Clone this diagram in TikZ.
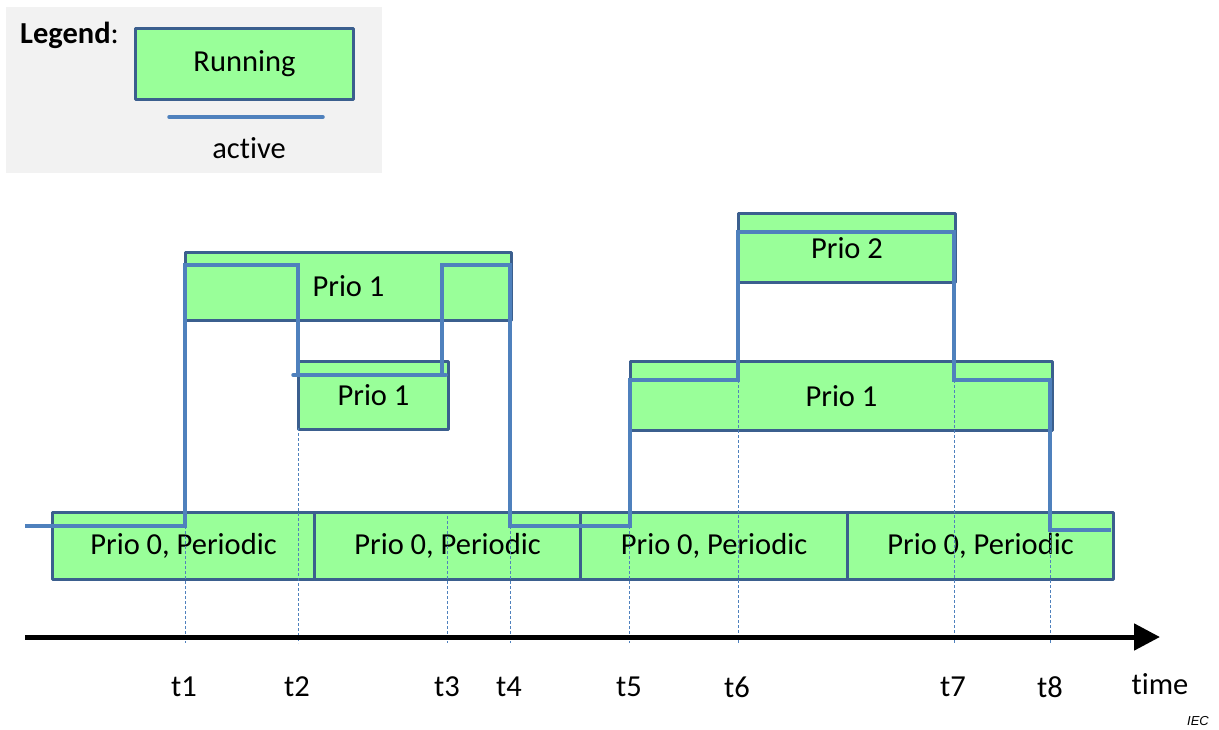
\documentclass[tikz,border=0pt]{standalone}
\usepackage{fontspec}
\setmainfont[Ligatures={NoCommon}]{Carlito}
\newfontfamily\iecfont{Liberation Sans}
\usetikzlibrary{arrows.meta}
\definecolor{runfill}{HTML}{99FF99}
\definecolor{boxedge}{HTML}{3B5F8E}
\definecolor{activeblue}{HTML}{4F81BD}
\definecolor{legendbg}{HTML}{F2F2F2}
\tikzset{
  runbox/.style={draw=boxedge, fill=runfill, line width=3pt, rectangle, inner sep=0pt, anchor=north west, font=\fontsize{30.5}{36}\selectfont, line join=round},
  activeline/.style={draw=activeblue, line width=3.5pt},
  markline/.style={draw=activeblue, line width=0.9pt, dash pattern=on 3pt off 2pt},
  lbl/.style={font=\fontsize{30.5}{36}\selectfont, inner sep=0pt},
}
\begin{document}
\begin{tikzpicture}[x=1pt,y=-1pt]
\useasboundingbox (0,0) rectangle (1219,729);
% legend
\fill[legendbg] (6,7) rectangle (382,173);
\node[lbl, anchor=base west] (legendtxt) at (20,43) {\textbf{Legend}:};
\node[runbox, minimum width=218pt, minimum height=71pt] (legrun) at (134,27) {Running};
\coordinate (la) at (169,117);
\coordinate (lb) at (323,117);
\draw[activeline, line cap=round] (la) -- (lb);
\node[lbl] (legact) at (249,148) {active};
% boxes
\node[runbox, minimum width=262pt, minimum height=67pt] (p0a) at (51,511) {Prio 0, Periodic};
\node[runbox, minimum width=266pt, minimum height=67pt] (p0b) at (313,511) {Prio 0, Periodic};
\node[runbox, minimum width=267pt, minimum height=67pt] (p0c) at (579,511) {Prio 0, Periodic};
\node[runbox, minimum width=266pt, minimum height=67pt] (p0d) at (846,511) {Prio 0, Periodic};
\node[runbox, minimum width=326pt, minimum height=68pt] (p1a) at (184,251) {Prio 1};
\node[runbox, minimum width=150pt, minimum height=68pt] (p1b) at (297,360) {Prio 1};
\node[runbox, minimum width=422pt, minimum height=69pt] (p1c) at (629,360) {Prio 1};
\node[runbox, minimum width=217pt, minimum height=69pt] (p2) at (737,212) {Prio 2};
% marker lines
\foreach \n/\x/\y in {1/185/526, 2/298/428, 3/447/516, 4/510/526, 5/629/526, 6/738/380, 7/954/380, 8/1050/530}{
  \coordinate (ms\n) at (\x,\y);
  \coordinate (me\n) at (\x,643);
  \draw[markline] (ms\n) -- (me\n);
}
% active line
\draw[activeline] (25,526) -- (185,526) -- (185,265) -- (298,265) -- (298,375);
\draw[activeline, line cap=round] (293,375) -- (446,375);
\draw[activeline] (442,375) -- (442,265) -- (510,265) -- (510,526) -- (630,526) -- (630,380) -- (738,380) -- (738,232) -- (954,232) -- (954,380) -- (1050,380) -- (1050,530) -- (1111,530);
% axis
\coordinate (axs) at (25,637);
\coordinate (axe) at (1160,637);
\draw[line width=5pt, -{Triangle[length=26pt,width=26pt]}] (axs) -- (axe);
% labels
\foreach \n/\x in {1/184, 2/297, 3/447, 4/509, 5/629, 6/737, 7/953, 8/1050}{
  \node[lbl] (t\n) at (\x,687) {t\n};
}
\node[lbl] (timelbl) at (1160,684) {time};
\node[font=\iecfont\itshape\fontsize{13}{15}\selectfont, anchor=east, inner sep=0pt] (iec) at (1209,721) {IEC};
\end{tikzpicture}
\end{document}
